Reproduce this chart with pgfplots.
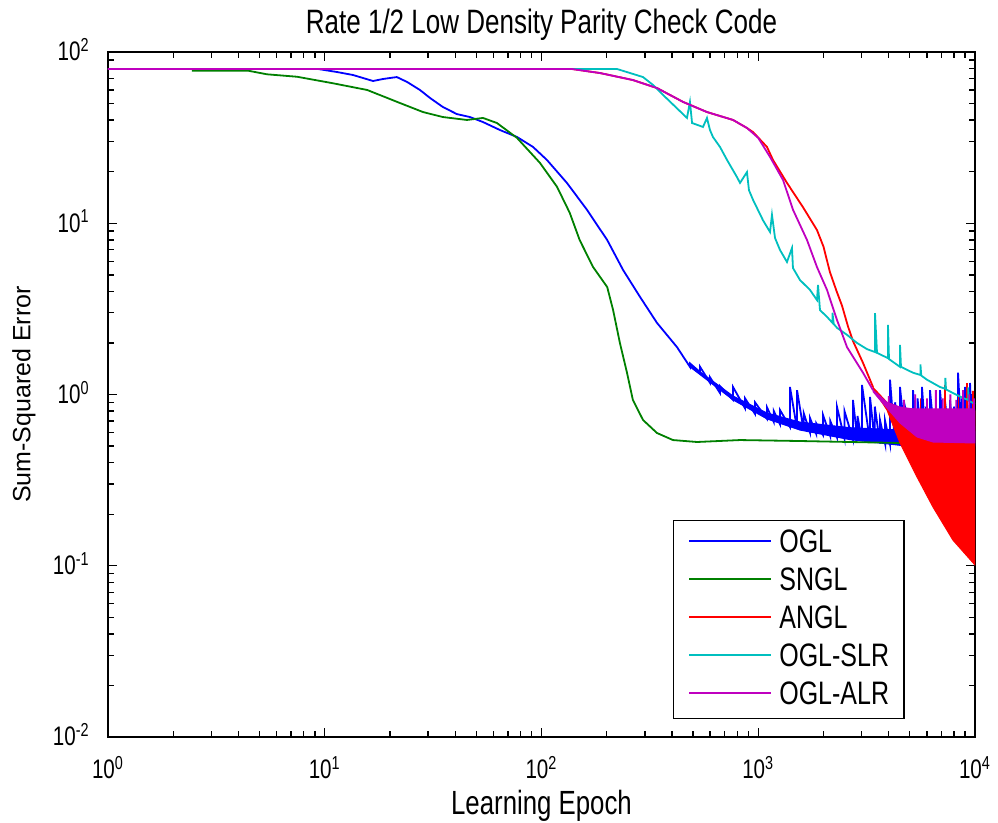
\documentclass[border=0pt]{standalone}
\usepackage{fontspec}
\setmainfont{Liberation Sans}
\usepackage{graphicx}
\usepackage{pgfplots}
\pgfplotsset{compat=1.18}
\definecolor{mblue}{rgb}{0,0,1}
\definecolor{mgreen}{rgb}{0,0.5,0}
\definecolor{mred}{rgb}{1,0,0}
\definecolor{mcyan}{rgb}{0,0.75,0.75}
\definecolor{mmag}{rgb}{0.75,0,0.75}
\newcommand{\st}[1]{\scalebox{1}[1.3]{#1}}
\begin{document}
\begin{tikzpicture}
\begin{axis}[
  xmode=log, ymode=log,
  scale only axis, width=433.5pt, height=342.5pt,
  xmin=1, xmax=10000, ymin=0.01, ymax=100,
  xtick={1,10,100,1000,10000},
  xticklabels={\st{10\textsuperscript{0}},\st{10\textsuperscript{1}},\st{10\textsuperscript{2}},\st{10\textsuperscript{3}},\st{10\textsuperscript{4}}},
  ytick={0.01,0.1,1,10,100},
  yticklabels={\st{10\textsuperscript{-2}},\st{10\textsuperscript{-1}},\st{10\textsuperscript{0}},\st{10\textsuperscript{1}},\st{10\textsuperscript{2}}},
  minor xtick={2,3,4,5,6,7,8,9,20,30,40,50,60,70,80,90,200,300,400,500,600,700,800,900,2000,3000,4000,5000,6000,7000,8000,9000},
  minor ytick={0.02,0.03,0.04,0.05,0.06,0.07,0.08,0.09,0.2,0.3,0.4,0.5,0.6,0.7,0.8,0.9,2,3,4,5,6,7,8,9,20,30,40,50,60,70,80,90},
  major tick length=4.5pt, minor tick length=3pt,
  every tick/.style={black, line width=0.7pt},
  axis line style={line width=0.9pt, black},
  xticklabel style={font=\fontsize{10.3}{12}\selectfont, inner sep=0pt, anchor=base, yshift=-21pt},
  yticklabel style={font=\fontsize{10.3}{12}\selectfont, inner sep=0pt, anchor=base east, xshift=-9pt, yshift=-4.5pt},
  title={\st{Rate 1/2 Low Density Parity Check Code}},
  title style={font=\fontsize{13}{15}\selectfont, at={(0.5,1)}, anchor=base, yshift=3pt, inner sep=0pt},
  xlabel={\st{Learning Epoch}},
  xlabel style={font=\fontsize{12.9}{15}\selectfont, at={(axis description cs:0.5,0)}, anchor=base, yshift=-39pt, inner sep=0pt},
  ylabel={Sum-Squared Error},
  ylabel style={font=\fontsize{12.5}{15}\selectfont, at={(axis description cs:-0.0969,0.5)}, anchor=center, inner sep=0pt},
  legend style={at={(axis description cs:0.919,0.026)}, anchor=south east, draw=black, line width=0.7pt, fill=white,
    font=\fontsize{12.5}{15}\selectfont, inner xsep=7.5pt, inner ysep=4pt, row sep=4pt, column sep=3.5pt,
    nodes={inner sep=0pt, text height=12pt, text depth=3pt}, cells={anchor=west}},
  legend image code/.code={\path[draw=none,fill=none] (0pt,-7.5pt) rectangle (41pt,7.5pt); \draw[#1] (0pt,1.3pt) -- (41pt,1.3pt);},
]
% ---------- OGL (blue)
\addplot[mblue, line width=0.9pt] coordinates {
(1,79.6) (9.31,79.6) (11.4,76.4) (13.5,73.4) (16.7,67.7) (18.6,69.6) (21.5,71.4) (24.0,66.8)
(27.5,60.0) (30.6,53.9) (35.1,47.7) (40.7,43.4) (46.8,41.7) (53.7,39.0) (64.4,35.0) (77.1,31.9)
(91.4,27.9) (106,23.4) (131,17.2) (162,12.0) (201,7.98) (238,5.33) (285,3.71) (341,2.62) (422,1.89)
(484,1.45) (484,1.52) (539,1.35) (539,1.45) (599,1.17) (599,1.26) (666,1.02) (666,1.12)
(765,0.93) (765,1.106) (869,0.83) (869,0.95) (966,0.77) (966,0.90) (1098,0.72) (1098,0.84)
(1180,0.69) (1180,0.80) (1260,0.67) (1260,0.812) (1401,0.645) (1401,1.106) (1510,0.63) (1510,1.06)
(1620,0.615) (1620,0.78) (1733,0.60) (1733,0.729) (1850,0.59) (1850,0.68) (1990,0.58) (1990,0.759)
(2150,0.57) (2150,0.70) (2309,0.56) (2309,0.845) (2500,0.553) (2500,0.80) (2736,0.545) (2736,0.929)
(2870,0.54) (2870,0.75) (3011,0.535) (3011,1.137) (3279,0.525) (3279,0.967) (3450,0.52) (3450,0.85)
(3645,0.517) (3645,0.71) (3850,0.515) (3850,0.70) (4054,0.512) (4054,1.22) (4280,0.51) (4280,0.90)
(4508,0.507) (4508,1.106) (4800,0.507) (4800,0.80) (5176,0.507) (5176,1.06) (5430,0.507) (5430,0.95)
(5694,0.507) (5694,1.106) (5950,0.507) (5950,0.85) (6200,0.507) (6200,1.06) (6550,0.507) (6550,0.80)
(6895,0.507) (6895,1.06) (7250,0.507) (7250,0.95) (7667,0.507) (7667,0.929) (8000,0.507) (8000,0.85)
(8350,0.507) (8350,1.34) (8700,0.507) (8700,0.95) (8993,0.507) (8993,1.106) (9200,0.507) (9200,0.90)
(9485,0.507) (9485,1.167) (9750,0.507) (9750,1.0) (10000,0.507)
};
\addlegendentry{\st{OGL}}
\addplot[fill=mblue, draw=mblue, line width=0.5pt, forget plot] coordinates {
(484,1.50) (765,0.98) (1098,0.78) (1558,0.69) (2651,0.64) (4508,0.62) (10000,0.61)
(10000,0.50) (4508,0.505) (2651,0.545) (1558,0.62) (1098,0.72) (765,0.93) (484,1.45)
} -- cycle;
% ---------- SNGL (green)
\addplot[mgreen, line width=0.9pt] coordinates {
(2.44,77.8) (4.43,77.8) (5.41,74.1) (7.45,71.7) (10.9,65.7) (15.7,60.0) (22.2,50.4) (28.4,44.6)
(35.1,41.7) (45.3,40.1) (53.7,41.2) (62.3,38.5) (77.1,31.5) (98.4,22.5) (118,16.3) (135,11.5)
(150,7.98) (173,5.55) (201,4.24) (214,3.11) (230,2.00) (248,1.34) (264,0.929) (294,0.710)
(341,0.596) (404,0.542) (522,0.528) (824,0.542) (1558,0.535) (4508,0.521) (10000,0.521)
};
\addlegendentry{\st{SNGL}}
% ---------- ANGL (red)
\addplot[mred, line width=0.9pt] coordinates {
(1,79.6) (138,79.6) (186,75.4) (264,68.6) (341,61.6) (450,51.1) (580,44.6) (765,40.1) (887,36.0)
(946,34.1) (1097,27.9) (1170,23.4) (1357,17.2) (1609,12.4) (1866,9.13) (2000,7.3) (2140,5.2)
(2300,4.0) (2435,3.3) (2594,2.5) (2736,2.05) (3043,1.53) (3384,1.106)
};
\addlegendentry{\st{ANGL}}
\addplot[fill=mred, draw=mred, line width=0.5pt, forget plot] coordinates {
(3384,1.10) (3926,0.90) (4508,0.84) (5576,0.80) (10000,0.80)
(10000,0.101) (7917,0.141) (6402,0.220) (5401,0.330) (4508,0.521) (3926,0.812) (3384,1.08)
} -- cycle;
\addplot[mred, line width=0.9pt, forget plot] coordinates {
(4700,0.8) (4700,0.93) (4700,0.8) (5600,0.8) (5600,0.95) (5600,0.8) (7250,0.8) (7250,1.137) (7250,0.8)
(8400,0.8) (8400,1.0) (8400,0.8) (9200,0.8) (9200,1.167) (9200,0.8) (9800,0.8) (9800,1.05) (9800,0.8)
};
% ---------- OGL-SLR (cyan)
\addplot[mcyan, line width=0.9pt] coordinates {
(1,79.6) (223,79.6) (294,71.4) (327,64.2) (364,56.1) (469,41.2) (484,51.1) (495,38.5) (556,36.5)
(580,41.2) (599,35.0) (618,31.9) (666,27.9) (718,23.4) (798,18.6) (824,17.2) (887,19.9) (906,15.6)
(946,13.7) (1052,10.4) (1133,8.89) (1157,11.2) (1195,8.20) (1260,6.98) (1357,5.94) (1431,7.17)
(1446,5.48) (1558,4.66) (1733,4.08) (1866,3.56) (1887,4.36) (1927,3.11) (2076,2.84) (2200,2.62)
(2200,3.0) (2230,2.58) (2309,2.45) (2568,2.23) (2855,2.00) (3176,1.84) (3457,1.77) (3457,2.99)
(3531,1.75) (3968,1.63) (3968,2.55) (4011,1.61) (4508,1.45) (4508,1.95) (4556,1.45) (5176,1.34)
(5600,1.30) (5600,1.50) (5650,1.29) (6003,1.22) (6895,1.106) (7300,1.08) (7300,1.25) (7350,1.07)
(7917,1.02) (8803,0.954) (9300,0.93) (9300,1.10) (9350,0.92) (9790,0.892) (10000,0.880)
};
\addlegendentry{\st{OGL-SLR}}
% ---------- OGL-ALR (magenta)
\addplot[mmag, line width=0.9pt] coordinates {
(1,79.6) (138,79.6) (186,75.4) (264,68.6) (341,61.6) (450,51.1) (580,44.6) (765,40.1) (887,36.0)
(1000,31.5) (1133,24.4) (1301,17.9) (1446,12.0) (1679,7.98) (1866,5.55) (2076,4.08) (2309,2.72)
(2568,1.89) (3043,1.34) (3384,1.06)
};
\addlegendentry{\st{OGL-ALR}}
\addplot[fill=mmag, draw=mmag, line width=0.5pt, forget plot] coordinates {
(3384,1.06) (3926,0.90) (4508,0.845) (5576,0.812) (8530,0.812) (10000,0.812)
(10000,0.521) (6402,0.528) (5401,0.565) (4508,0.682) (3645,0.929) (3384,1.04)
} -- cycle;
\addplot[mmag, line width=0.9pt, forget plot] coordinates {
(4000,0.85) (4000,0.98) (4000,0.85) (4700,0.82) (4700,0.93) (4700,0.82) (5300,0.82) (5300,1.0) (5300,0.82)
(6000,0.82) (6000,0.95) (6000,0.82) (6600,0.82) (6600,1.06) (6600,0.82) (7100,0.82) (7100,0.95) (7100,0.82)
(7700,0.82) (7700,1.0) (7700,0.82) (8200,0.82) (8200,0.93) (8200,0.82) (8800,0.82) (8800,1.06) (8800,0.82)
(9400,0.82) (9400,1.0) (9400,0.82) (9900,0.82) (9900,0.95)
};
\end{axis}
\pgfresetboundingbox
\path ([xshift=-54pt,yshift=-43pt]current axis.south west) rectangle ([xshift=11.5pt,yshift=26pt]current axis.north east);
\end{tikzpicture}
\end{document}
